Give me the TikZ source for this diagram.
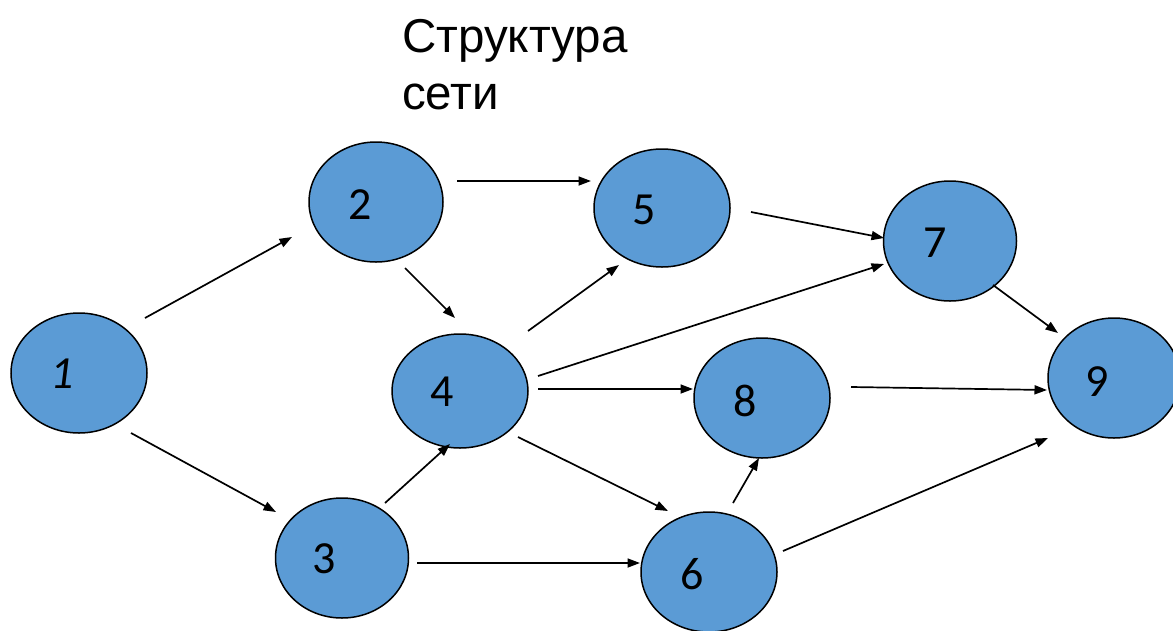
\documentclass[tikz,border=0pt]{standalone}
\usepackage{fontspec}
\setmainfont{Carlito}
\newfontfamily\titlefont{Liberation Sans}
\usetikzlibrary{arrows.meta,shapes.geometric,calc}

\definecolor{nodeblue}{HTML}{5B9BD5}

\tikzset{
  vertex/.style={ellipse, draw=black, line width=1.5pt, fill=nodeblue,
    inner sep=0pt, minimum width=136pt, minimum height=120pt},
  num/.style={inner sep=0pt, font=\fontsize{46}{50}\selectfont},
  arr/.style={line width=1.7pt, -{Triangle[length=12.5pt,width=9pt]}},
}

\begin{document}
\begin{tikzpicture}[x=1pt,y=-1pt]
\useasboundingbox[fill=white] (0,0) rectangle (1173,630);

% title (base anchor sits on the last line)
\node[anchor=base west, inner sep=0pt, align=left,
      font=\titlefont\fontsize{47.5}{57}\selectfont] (title) at (402,109)
  {Структура\\сети};

% vertices
\node[vertex] (n1) at (79,373) {};
\node[vertex, minimum width=134pt] (n2) at (376,202) {};
\node[vertex, minimum width=133pt] (n3) at (342,558) {};
\node[vertex, minimum height=114pt] (n4) at (460,391) {};
\node[vertex, minimum height=118pt] (n5) at (662,208) {};
\node[vertex] (n6) at (709,572) {};
\node[vertex, minimum width=133pt] (n7) at (950,241) {};
\node[vertex] (n8) at (762,398) {};
\node[vertex, minimum width=132pt] (n9) at (1114,378) {};

% vertex numbers
\node[num, font=\fontsize{46}{50}\selectfont\itshape] (l1) at ($(n1)+(-17,1)$) {1};
\node[num] (l2) at ($(n2)+(-16,3)$) {2};
\node[num] (l3) at ($(n3)+(-18,1)$) {3};
\node[num] (l4) at ($(n4)+(-18,1)$) {4};
\node[num] (l5) at ($(n5)+(-18,2)$) {5};
\node[num] (l6) at ($(n6)+(-17,2)$) {6};
\node[num] (l7) at ($(n7)+(-15,2)$) {7};
\node[num] (l8) at ($(n8)+(-17,3)$) {8};
\node[num] (l9) at ($(n9)+(-17,4)$) {9};

% arcs
\draw[arr] ($(n1)+(66,-55)$) -- ($(n2)+(-84,35)$);
\draw[arr] ($(n1)+(52,60)$)  -- ($(n3)+(-66,-46)$);
\draw[arr] ($(n2)+(81,-21)$) -- ($(n5)+(-71,-27)$);
\draw[arr] ($(n2)+(29,66)$)  -- ($(n4)+(-5,-73)$);
\draw[arr] ($(n3)+(43,-55)$) -- ($(n4)+(-10,53)$);
\draw[arr] ($(n3)+(75,5)$)   -- ($(n6)+(-69,-9)$);
\draw[arr] ($(n4)+(68,-60)$) -- ($(n5)+(-43,57)$);
\draw[arr] ($(n4)+(78,-15)$) -- ($(n7)+(-66,23)$);
\draw[arr] ($(n4)+(78,-2)$)  -- ($(n8)+(-69,-9)$);
\draw[arr] ($(n4)+(58,46)$)  -- ($(n6)+(-41,-61)$);
\draw[arr] ($(n5)+(89,4)$)   -- ($(n7)+(-66,-3)$);
\draw[arr] ($(n6)+(24,-69)$) -- ($(n8)+(-3,60)$);
\draw[arr] ($(n6)+(74,-21)$) -- ($(n9)+(-66,60)$);
\draw[arr] ($(n7)+(43,44)$)  -- ($(n9)+(-56,-45)$);
\draw[arr] ($(n8)+(89,-11)$) -- ($(n9)+(-67,12)$);
\end{tikzpicture}
\end{document}
